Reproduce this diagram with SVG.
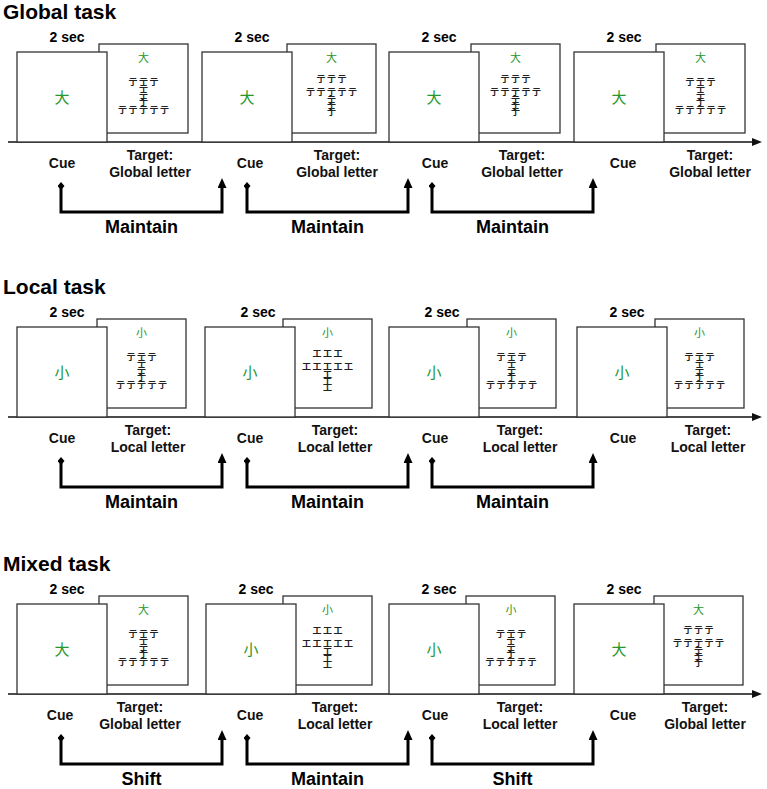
<svg xmlns="http://www.w3.org/2000/svg" width="767" height="789" viewBox="0 0 767 789">
<defs>
<style>
.title{font-family:"Liberation Sans",Arial,sans-serif;font-weight:bold;font-size:21px;fill:#000}
.sec{font-family:"Liberation Sans",Arial,sans-serif;font-weight:bold;font-size:14px;fill:#000;text-anchor:middle}
.lab{font-family:"Liberation Sans",Arial,sans-serif;font-weight:bold;font-size:14px;fill:#111;text-anchor:middle}
.big{font-family:"Liberation Sans",Arial,sans-serif;font-weight:bold;font-size:18px;fill:#000;text-anchor:middle}
.box{fill:#fff;stroke:#333;stroke-width:1.3}
.cuech{font-family:"Noto Sans CJK SC","Noto Sans CJK JP",sans-serif;font-size:15px;fill:#27962b;text-anchor:middle}
.gch{font-family:"Noto Sans CJK SC","Noto Sans CJK JP",sans-serif;font-size:11px;fill:#27962b;text-anchor:middle}
.sm{font-family:"Noto Sans CJK SC","Noto Sans CJK JP",sans-serif;font-size:9px;font-weight:bold;fill:#222;text-anchor:middle}
.axis{fill:none;stroke:#111;stroke-width:1.5}
.br{fill:none;stroke:#000;stroke-width:3}
</style>
<marker id="ax" markerUnits="userSpaceOnUse" viewBox="0 0 10 8" markerWidth="10" markerHeight="8" refX="2" refY="4" orient="auto"><path d="M0,0 L10,4 L0,8 z" fill="#111"/></marker>
<marker id="up" markerUnits="userSpaceOnUse" viewBox="0 0 10 9" markerWidth="10" markerHeight="9" refX="2" refY="4.5" orient="auto"><path d="M0,0 L10,4.5 L0,9 z" fill="#000"/></marker>
<marker id="dia" markerUnits="userSpaceOnUse" viewBox="0 0 8 7" markerWidth="8" markerHeight="7" refX="4" refY="3.5" orient="auto"><path d="M0,3.5 L4,0 L8,3.5 L4,7 z" fill="#000"/></marker>
</defs>

<g id="connectors">
<path class="axis" d="M8,142 H754" marker-end="url(#ax)"/>
<path class="axis" d="M8,417 H754" marker-end="url(#ax)"/>
<path class="axis" d="M8,694 H754" marker-end="url(#ax)"/>
<path class="br" d="M61,186 V212 H222 V186" marker-start="url(#dia)" marker-end="url(#up)"/>
<path class="br" d="M247,186 V212 H408 V186" marker-start="url(#dia)" marker-end="url(#up)"/>
<path class="br" d="M432,186 V212 H593 V186" marker-start="url(#dia)" marker-end="url(#up)"/>
<path class="br" d="M61,461 V487 H222 V461" marker-start="url(#dia)" marker-end="url(#up)"/>
<path class="br" d="M247,461 V487 H408 V461" marker-start="url(#dia)" marker-end="url(#up)"/>
<path class="br" d="M432,461 V487 H593 V461" marker-start="url(#dia)" marker-end="url(#up)"/>
<path class="br" d="M61,738 V764 H222 V738" marker-start="url(#dia)" marker-end="url(#up)"/>
<path class="br" d="M247,738 V764 H408 V738" marker-start="url(#dia)" marker-end="url(#up)"/>
<path class="br" d="M432,738 V764 H593 V738" marker-start="url(#dia)" marker-end="url(#up)"/>
</g>

<!-- ================= Global task ================= -->
<g id="title-global"><text class="title" x="3" y="19">Global task</text></g>

<g id="g-t1">
<rect class="box" x="99" y="44" width="89" height="89"/>
<text class="gch" x="143.5" y="62">大</text>
<text class="sm" x="133 143.5 154 143.5 143.5 143.5 122.5 133 143.5 154 164.5" y="85 85 85 92 98.5 105 112.5 112.5 112.5 112.5 112.5">亍亍亍亍亍亍亍亍亍亍亍</text>
</g>
<g id="g-c1">
<rect class="box" x="17" y="52" width="90" height="90"/>
<text class="cuech" x="62" y="102.5">大</text>
</g>
<g id="g-t2">
<rect class="box" x="287" y="44" width="89" height="89"/>
<text class="gch" x="331.5" y="62">大</text>
<text class="sm" x="321 331.5 342 310.5 321 331.5 342 352.5 331.5 331.5 331.5" y="82 82 82 95 95 95 95 95 103 109 115">亍亍亍亍亍亍亍亍亍亍亍</text>
</g>
<g id="g-c2">
<rect class="box" x="202" y="52" width="90" height="90"/>
<text class="cuech" x="247" y="102.5">大</text>
</g>
<g id="g-t3">
<rect class="box" x="471" y="44" width="89" height="89"/>
<text class="gch" x="515.5" y="62">大</text>
<text class="sm" x="505 515.5 526 494.5 505 515.5 526 536.5 515.5 515.5 515.5" y="82 82 82 95 95 95 95 95 103 109 115">亍亍亍亍亍亍亍亍亍亍亍</text>
</g>
<g id="g-c3">
<rect class="box" x="389" y="52" width="90" height="90"/>
<text class="cuech" x="434" y="102.5">大</text>
</g>
<g id="g-t4">
<rect class="box" x="656" y="44" width="89" height="89"/>
<text class="gch" x="700.5" y="62">大</text>
<text class="sm" x="690 700.5 711 700.5 700.5 700.5 679.5 690 700.5 711 721.5" y="85 85 85 92 98.5 105 112.5 112.5 112.5 112.5 112.5">亍亍亍亍亍亍亍亍亍亍亍</text>
</g>
<g id="g-c4">
<rect class="box" x="574" y="52" width="90" height="90"/>
<text class="cuech" x="619" y="102.5">大</text>
</g>
<g id="g-labels">
<text class="sec" x="67" y="42">2 sec</text>
<text class="sec" x="252" y="42">2 sec</text>
<text class="sec" x="439" y="42">2 sec</text>
<text class="sec" x="624" y="42">2 sec</text>
<text class="lab" x="62" y="168">Cue</text>
<text class="lab" x="250" y="168">Cue</text>
<text class="lab" x="435" y="168">Cue</text>
<text class="lab" x="623" y="168">Cue</text>
<text class="lab" x="150" y="160">Target:</text><text class="lab" x="150" y="177">Global letter</text>
<text class="lab" x="337" y="160">Target:</text><text class="lab" x="337" y="177">Global letter</text>
<text class="lab" x="522" y="160">Target:</text><text class="lab" x="522" y="177">Global letter</text>
<text class="lab" x="710" y="160">Target:</text><text class="lab" x="710" y="177">Global letter</text>
<text class="big" x="141.5" y="233">Maintain</text>
<text class="big" x="327.5" y="233">Maintain</text>
<text class="big" x="512.5" y="233">Maintain</text>
</g>

<!-- ================= Local task ================= -->
<g id="title-local"><text class="title" x="3" y="294">Local task</text></g>

<g id="l-t1">
<rect class="box" x="97" y="319" width="89" height="89"/>
<text class="gch" x="141.5" y="337">小</text>
<text class="sm" x="131 141.5 152 141.5 141.5 141.5 120.5 131 141.5 152 162.5" y="360 360 360 367 373.5 380 387.5 387.5 387.5 387.5 387.5">亍亍亍亍亍亍亍亍亍亍亍</text>
</g>
<g id="l-c1">
<rect class="box" x="17" y="327" width="90" height="90"/>
<text class="cuech" x="62" y="377.5">小</text>
</g>
<g id="l-t2">
<rect class="box" x="283" y="319" width="89" height="89"/>
<text class="gch" x="327.5" y="337">小</text>
<text class="sm" x="317 327.5 338 306.5 317 327.5 338 348.5 327.5 327.5 327.5" y="357 357 357 370 370 370 370 370 378 384.5 391">工工工工工工工工工工工</text>
</g>
<g id="l-c2">
<rect class="box" x="205" y="327" width="90" height="90"/>
<text class="cuech" x="250" y="377.5">小</text>
</g>
<g id="l-t3">
<rect class="box" x="467" y="319" width="89" height="89"/>
<text class="gch" x="511.5" y="337">小</text>
<text class="sm" x="501 511.5 522 511.5 511.5 511.5 490.5 501 511.5 522 532.5" y="360 360 360 367 373.5 380 387.5 387.5 387.5 387.5 387.5">亍亍亍亍亍亍亍亍亍亍亍</text>
</g>
<g id="l-c3">
<rect class="box" x="389" y="327" width="90" height="90"/>
<text class="cuech" x="434" y="377.5">小</text>
</g>
<g id="l-t4">
<rect class="box" x="655" y="319" width="89" height="89"/>
<text class="gch" x="699.5" y="337">小</text>
<text class="sm" x="689 699.5 710 699.5 699.5 699.5 678.5 689 699.5 710 720.5" y="360 360 360 367 373.5 380 387.5 387.5 387.5 387.5 387.5">亍亍亍亍亍亍亍亍亍亍亍</text>
</g>
<g id="l-c4">
<rect class="box" x="577" y="327" width="90" height="90"/>
<text class="cuech" x="622" y="377.5">小</text>
</g>
<g id="l-labels">
<text class="sec" x="67" y="317">2 sec</text>
<text class="sec" x="258" y="317">2 sec</text>
<text class="sec" x="442" y="317">2 sec</text>
<text class="sec" x="627" y="317">2 sec</text>
<text class="lab" x="62" y="443">Cue</text>
<text class="lab" x="250" y="443">Cue</text>
<text class="lab" x="435" y="443">Cue</text>
<text class="lab" x="623" y="443">Cue</text>
<text class="lab" x="148" y="435">Target:</text><text class="lab" x="148" y="452">Local letter</text>
<text class="lab" x="335" y="435">Target:</text><text class="lab" x="335" y="452">Local letter</text>
<text class="lab" x="520" y="435">Target:</text><text class="lab" x="520" y="452">Local letter</text>
<text class="lab" x="708" y="435">Target:</text><text class="lab" x="708" y="452">Local letter</text>
<text class="big" x="141.5" y="508">Maintain</text>
<text class="big" x="327.5" y="508">Maintain</text>
<text class="big" x="512.5" y="508">Maintain</text>
</g>

<!-- ================= Mixed task ================= -->
<g id="title-mixed"><text class="title" x="3" y="571">Mixed task</text></g>

<g id="m-t1">
<rect class="box" x="99" y="596" width="89" height="89"/>
<text class="gch" x="143.5" y="614">大</text>
<text class="sm" x="133 143.5 154 143.5 143.5 143.5 122.5 133 143.5 154 164.5" y="637 637 637 644 650.5 657 664.5 664.5 664.5 664.5 664.5">亍亍亍亍亍亍亍亍亍亍亍</text>
</g>
<g id="m-c1">
<rect class="box" x="17" y="604" width="90" height="90"/>
<text class="cuech" x="62" y="654.5">大</text>
</g>
<g id="m-t2">
<rect class="box" x="283" y="596" width="89" height="89"/>
<text class="gch" x="327.5" y="614">小</text>
<text class="sm" x="317 327.5 338 306.5 317 327.5 338 348.5 327.5 327.5 327.5" y="634 634 634 647 647 647 647 647 655 661.5 668">工工工工工工工工工工工</text>
</g>
<g id="m-c2">
<rect class="box" x="206" y="604" width="90" height="90"/>
<text class="cuech" x="251" y="654.5">小</text>
</g>
<g id="m-t3">
<rect class="box" x="466" y="596" width="89" height="89"/>
<text class="gch" x="511" y="614">小</text>
<text class="sm" x="500.5 511 521.5 511 511 511 490 500.5 511 521.5 532" y="637 637 637 644 650.5 657 664.5 664.5 664.5 664.5 664.5">亍亍亍亍亍亍亍亍亍亍亍</text>
</g>
<g id="m-c3">
<rect class="box" x="389" y="604" width="90" height="90"/>
<text class="cuech" x="434" y="654.5">小</text>
</g>
<g id="m-t4">
<rect class="box" x="654" y="596" width="89" height="89"/>
<text class="gch" x="698.5" y="614">大</text>
<text class="sm" x="688 698.5 709 677.5 688 698.5 709 719.5 698.5 698.5 698.5" y="633 633 633 646 646 646 646 646 654 660 666">亍亍亍亍亍亍亍亍亍亍亍</text>
</g>
<g id="m-c4">
<rect class="box" x="574" y="604" width="90" height="90"/>
<text class="cuech" x="619" y="654.5">大</text>
</g>
<g id="m-labels">
<text class="sec" x="67" y="594">2 sec</text>
<text class="sec" x="256" y="594">2 sec</text>
<text class="sec" x="439" y="594">2 sec</text>
<text class="sec" x="624" y="594">2 sec</text>
<text class="lab" x="60" y="720">Cue</text>
<text class="lab" x="250" y="720">Cue</text>
<text class="lab" x="435" y="720">Cue</text>
<text class="lab" x="623" y="720">Cue</text>
<text class="lab" x="140" y="712">Target:</text><text class="lab" x="140" y="729">Global letter</text>
<text class="lab" x="335" y="712">Target:</text><text class="lab" x="335" y="729">Local letter</text>
<text class="lab" x="520" y="712">Target:</text><text class="lab" x="520" y="729">Local letter</text>
<text class="lab" x="705" y="712">Target:</text><text class="lab" x="705" y="729">Global letter</text>
<text class="big" x="141.5" y="785">Shift</text>
<text class="big" x="327.5" y="785">Maintain</text>
<text class="big" x="512.5" y="785">Shift</text>
</g>
</svg>
